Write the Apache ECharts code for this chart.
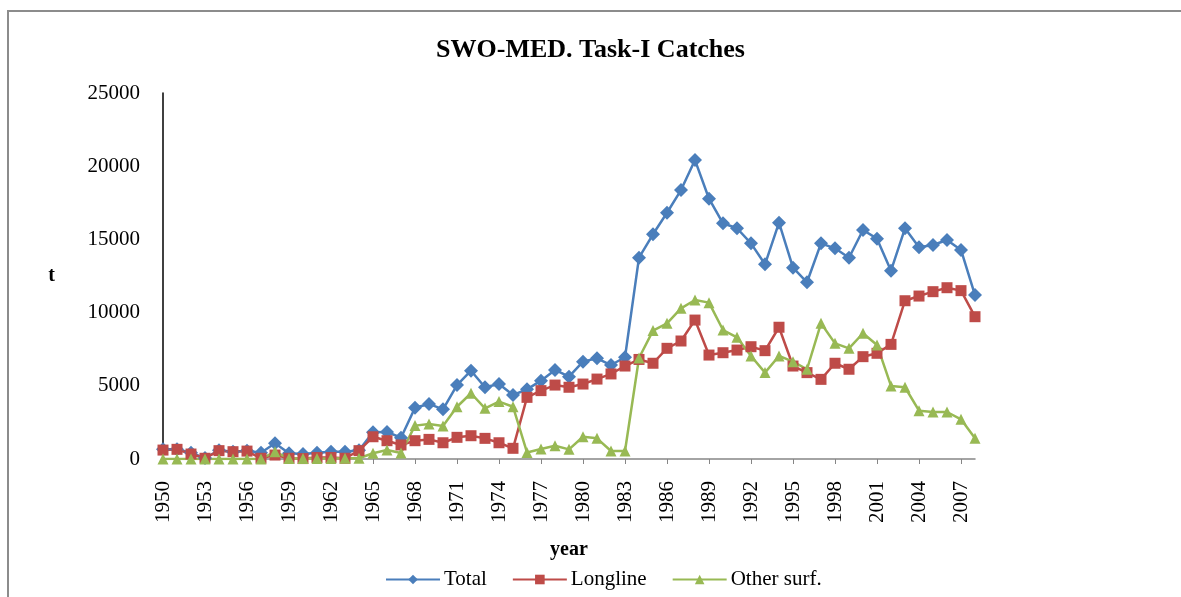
<!DOCTYPE html>
<html>
<head>
<meta charset="utf-8">
<script src="https://cdn.jsdelivr.net/npm/echarts@6/dist/echarts.min.js"></script>
<style>
  html, body { margin: 0; padding: 0; background: #fff; }
  #frame { position: absolute; left: 7px; top: 10px; width: 1200px; height: 620px; border: 2px solid #8c8c8c; box-sizing: border-box; }
  #chart { position: absolute; left: 0; top: 0; width: 1181px; height: 597px; }
</style>
</head>
<body>
<div id="frame"></div>
<div id="chart"></div>
<script>
// years 1950..2008
const years = []
for (let y = 1950; y <= 2008; y++) years.push(String(y))

// catches (t)
const total = [660, 660, 430, 60, 600, 500, 560, 430, 1070, 390, 340, 430, 500, 500, 600, 1820, 1850, 1450,
  3500, 3760, 3390, 5050, 6030, 4900, 5120, 4370, 4760, 5350, 6080, 5620, 6650, 6880, 6420, 6950,
  13750, 15350, 16820, 18370, 20420, 17780, 16100, 15760, 14730, 13300, 16140, 13070, 12070, 14730,
  14390, 13750, 15640, 15050, 12860, 15760, 14460, 14620, 14960, 14280, 11200]
const longline = [610, 660, 340, 50, 570, 500, 540, 50, 270, 50, 30, 100, 100, 50, 570, 1520, 1250, 960,
  1250, 1340, 1110, 1480, 1590, 1410, 1110, 730, 4210, 4670, 5050, 4900, 5120, 5460, 5810, 6350,
  6800, 6540, 7560, 8060, 9490, 7100, 7260, 7440, 7670, 7400, 9000, 6350, 5900, 5440,
  6540, 6130, 6990, 7220, 7830, 10810, 11130, 11430, 11700, 11500, 9720]
const otherSurf = [0, 0, 0, 0, 0, 0, 0, 0, 500, 30, 30, 40, 40, 50, 50, 390, 610, 410,
  2280, 2390, 2250, 3570, 4490, 3460, 3920, 3570, 450, 680, 910, 660, 1520, 1410, 550, 550,
  6900, 8770, 9270, 10290, 10860, 10680, 8810, 8310, 7040, 5900, 7040, 6650, 6130, 9270,
  7900, 7560, 8590, 7790, 4990, 4900, 3300, 3210, 3210, 2710, 1410]

const font = 'Liberation Serif, Times New Roman, serif'

const chart = echarts.init(document.getElementById('chart'))
chart.setOption({
  animation: false,
  title: {
    text: 'SWO-MED. Task-I Catches',
    left: 'center',
    top: 32,
    textStyle: { fontFamily: font, fontSize: 26, fontWeight: 'bold', color: '#000' }
  },
  legend: {
    bottom: 2,
    left: 380,
    itemWidth: 54,
    itemHeight: 12,
    itemGap: 25,
    textStyle: { fontFamily: font, fontSize: 21, color: '#000', padding: [0, 0, 0, -1] },
    data: ['Total', 'Longline', 'Other surf.']
  },
  grid: { left: 163, right: 206, top: 93, bottom: 138 },
  xAxis: {
    type: 'category',
    data: years,
    boundaryGap: false,
    name: 'year',
    nameLocation: 'middle',
    nameGap: 81,
    nameTextStyle: { fontFamily: font, fontSize: 20, fontWeight: 'bold', color: '#000' },
    axisLine: { lineStyle: { color: '#868686', width: 1.5 } },
    axisTick: { interval: 2, length: 5, lineStyle: { color: '#868686' } },
    axisLabel: { interval: 2, rotate: 90, margin: 22, fontFamily: font, fontSize: 21, color: '#000' }
  },
  yAxis: {
    type: 'value',
    min: 0,
    max: 25000,
    interval: 5000,
    name: 't',
    nameLocation: 'middle',
    nameRotate: 0,
    nameGap: 108,
    nameTextStyle: { fontFamily: font, fontSize: 20, fontWeight: 'bold', color: '#000' },
    axisLine: { show: true, lineStyle: { color: '#000', width: 1.5 } },
    axisTick: { show: false },
    splitLine: { show: false },
    axisLabel: { margin: 23, fontFamily: font, fontSize: 21, color: '#000', formatter: v => String(v) }
  },
  series: [
    {
      name: 'Total', type: 'line', data: total,
      symbol: 'diamond', symbolSize: 14, showAllSymbol: true,
      lineStyle: { width: 2.5, color: '#4A7EBB' },
      itemStyle: { color: '#4A7EBB' }
    },
    {
      name: 'Longline', type: 'line', data: longline,
      symbol: 'rect', symbolSize: 11, showAllSymbol: true,
      lineStyle: { width: 2.5, color: '#BE4B48' },
      itemStyle: { color: '#BE4B48' }
    },
    {
      name: 'Other surf.', type: 'line', data: otherSurf,
      symbol: 'triangle', symbolSize: 11, showAllSymbol: true,
      lineStyle: { width: 2.5, color: '#98B954' },
      itemStyle: { color: '#98B954' }
    }
  ]
})
</script>
</body>
</html>
